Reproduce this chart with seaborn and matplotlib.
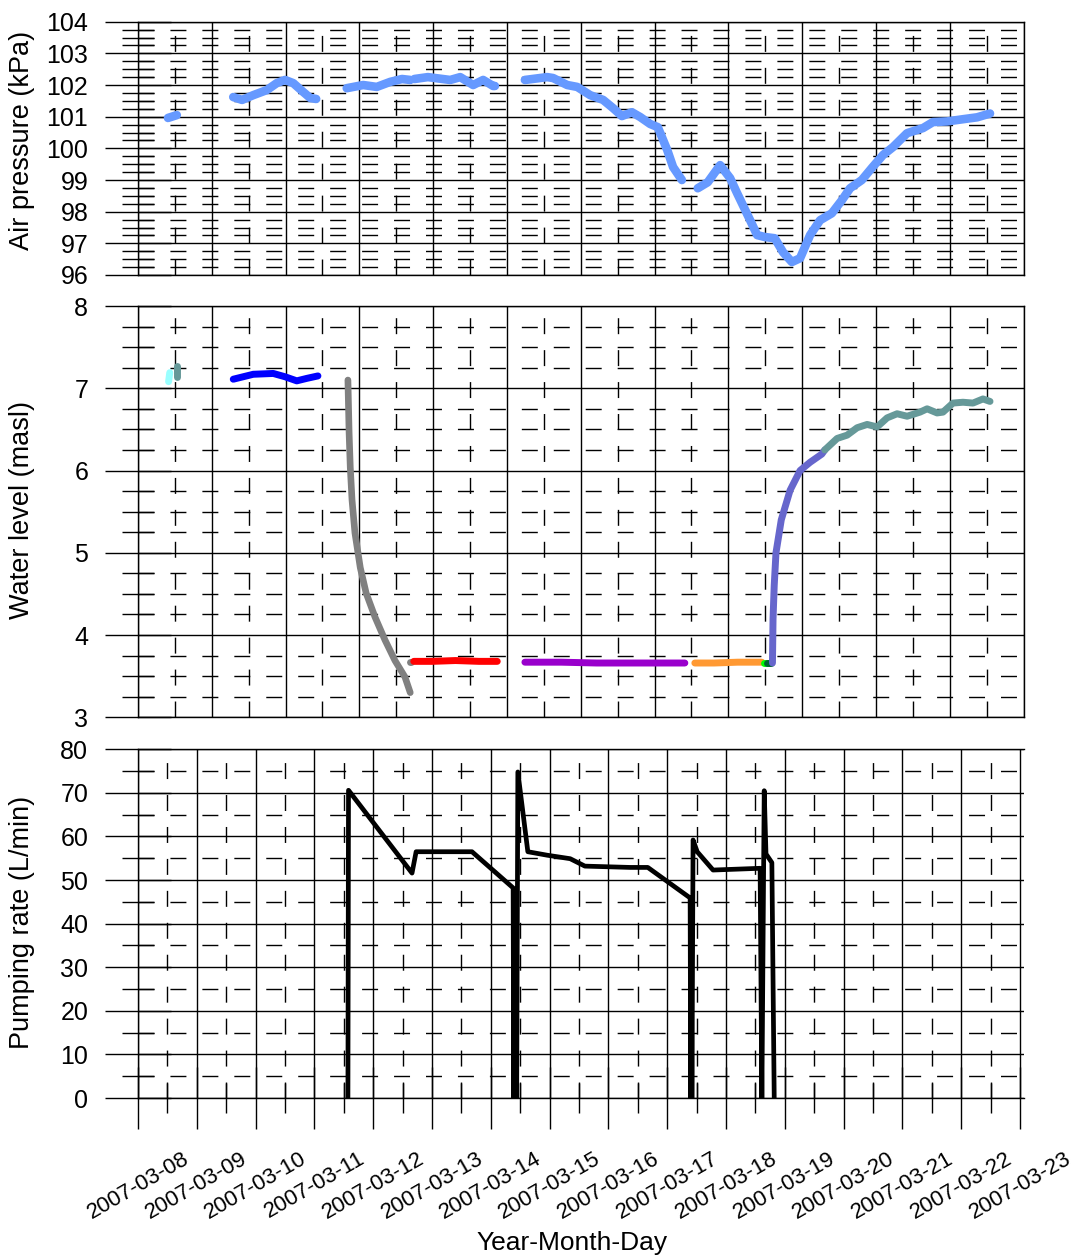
import numpy as np
import pandas as pd
import matplotlib
matplotlib.use("Agg")
import matplotlib.pyplot as plt
import matplotlib.dates as mdates
from matplotlib.ticker import FixedLocator, MultipleLocator
import seaborn as sns

# time axis: days since 2007-03-08 00:00
START = pd.Timestamp("2007-03-08")
n_days = 15

# air pressure (kPa), one list pair per logger segment
ap_days_1 = [0.51, 0.66]
ap_kpa_1 = [100.96, 101.05]
ap_days_2 = [1.62, 1.77, 1.96, 2.19, 2.36, 2.50, 2.64, 2.81, 2.93, 3.03]
ap_kpa_2 = [101.62, 101.53, 101.68, 101.84, 102.06, 102.16, 102.06, 101.78, 101.59, 101.56]
ap_days_3 = [3.55, 3.83, 4.06, 4.29, 4.49, 4.63]
ap_kpa_3 = [101.90, 102.00, 101.94, 102.10, 102.19, 102.16]
ap_days_4 = [4.70, 4.93, 5.31, 5.48, 5.70, 5.87, 6.04, 6.07]
ap_kpa_4 = [102.19, 102.25, 102.16, 102.25, 102.00, 102.16, 101.97, 101.97]
ap_days_5 = [6.58, 6.96, 7.06, 7.30, 7.47, 7.69, 7.91, 8.08, 8.23, 8.40, 8.54,
             8.71, 8.84, 9.00, 9.10, 9.25]
ap_kpa_5 = [102.16, 102.25, 102.22, 102.00, 101.94, 101.68, 101.53, 101.27, 101.02,
            101.14, 100.99, 100.77, 100.67, 99.95, 99.41, 99.00]
ap_days_6 = [9.52, 9.69, 9.90, 10.07, 10.19, 10.41, 10.53, 10.66, 10.83, 10.97,
             11.12, 11.26, 11.43, 11.60, 11.80, 11.97, 12.11, 12.31, 12.48, 12.67,
             12.84, 13.08, 13.35, 13.52, 13.76, 14.03, 14.27, 14.49]
ap_kpa_6 = [98.74, 98.93, 99.47, 99.06, 98.58, 97.73, 97.26, 97.20, 97.16, 96.72,
            96.41, 96.53, 97.26, 97.73, 97.95, 98.36, 98.74, 99.00, 99.38, 99.79,
            100.04, 100.48, 100.64, 100.83, 100.85, 100.92, 100.98, 101.10]

# water level (masl), one segment per colour
wl_cyan_days = [0.52, 0.54]
wl_cyan = [7.08, 7.19]
wl_teal1_days = [0.66, 0.66]
wl_teal1 = [7.14, 7.27]
wl_blue_days = [1.62, 1.96, 2.30, 2.50, 2.70, 2.87, 3.06]
wl_blue = [7.11, 7.17, 7.18, 7.14, 7.09, 7.12, 7.15]
wl_gray_days = [3.57, 3.59, 3.61, 3.64, 3.69, 3.78, 3.88, 4.03, 4.20, 4.37, 4.54, 4.63]
wl_gray = [7.10, 6.46, 6.04, 5.64, 5.24, 4.82, 4.51, 4.22, 3.94, 3.69, 3.49, 3.30]
wl_graydot_days = [4.62, 4.64]
wl_graydot = [3.67, 3.67]
wl_red_days = [4.69, 5.00, 5.40, 5.80, 6.11]
wl_red = [3.68, 3.68, 3.69, 3.68, 3.68]
wl_purple_days = [6.58, 7.20, 7.80, 8.40, 9.00, 9.30]
wl_purple = [3.67, 3.67, 3.66, 3.66, 3.66, 3.66]
wl_orange_days = [9.47, 9.80, 10.20, 10.61]
wl_orange = [3.66, 3.66, 3.67, 3.67]
wl_green_days = [10.64, 10.68]
wl_green = [3.66, 3.66]
wl_dkgreen_days = [10.70, 10.77]
wl_dkgreen = [3.66, 3.66]
wl_slate_days = [10.79, 10.80, 10.82, 10.85, 10.94, 11.09, 11.26, 11.43, 11.63, 11.68]
wl_slate = [3.66, 4.20, 4.60, 5.00, 5.40, 5.76, 6.00, 6.10, 6.20, 6.25]
wl_teal2_days = [11.68, 11.89, 12.06, 12.23, 12.40, 12.57, 12.74, 12.91, 13.08, 13.30,
                 13.42, 13.59, 13.69, 13.86, 14.03, 14.20, 14.37, 14.49]
wl_teal2 = [6.25, 6.39, 6.43, 6.52, 6.56, 6.53, 6.64, 6.69, 6.66, 6.71, 6.75, 6.70,
            6.71, 6.82, 6.83, 6.82, 6.87, 6.84]

# pumping rate (L/min)
pr_days = [3.57, 3.58, 4.66, 4.73, 5.68, 6.38, 6.39, 6.40, 6.41, 6.43, 6.44, 6.46,
           6.63, 6.96, 7.35, 7.60, 8.37, 8.67, 9.39, 9.40, 9.41, 9.42, 9.44, 9.51,
           9.78, 10.58, 10.61, 10.65, 10.68, 10.78, 10.82]
pr_rate = [0.0, 70.6, 51.6, 56.5, 56.5, 48.2, 0.0, 47.0, 0.0, 46.0, 0.0, 74.8,
           56.5, 55.7, 54.9, 53.2, 52.9, 52.9, 45.9, 0.0, 45.0, 0.0, 59.2, 56.5,
           52.3, 52.7, 0.0, 70.5, 56.0, 54.0, 0.0]

sns.set_style("white")
plt.rcParams["font.family"] = ["Liberation Sans", "DejaVu Sans"]
plt.rcParams["text.color"] = "black"
plt.rcParams["lines.scale_dashes"] = False

W, H = 1078, 1260
fig = plt.figure(figsize=(W / 100, H / 100), dpi=100)

x_left, x_right = 138, 1023.5
px_day = 58.8
t0 = mdates.date2num(START)
xspan = (x_right - x_left) / px_day


def add_panel(top, bottom):
    return fig.add_axes([x_left / W, 1 - bottom / H, (x_right - x_left) / W, (bottom - top) / H])


ax1 = add_panel(21.7, 275)
ax2 = add_panel(306, 717.3)
ax3 = add_panel(749.3, 1098)

dash = (0, (11.5, 11.5))
for ax in (ax1, ax2, ax3):
    ax.set_xlim(t0, t0 + xspan)
    ax.set_axisbelow(True)
    ax.grid(which="major", color="black", lw=1, linestyle="-")
    ax.grid(which="minor", color="black", lw=1, linestyle=dash)
    for s in ax.spines.values():
        s.set_color("black")
        s.set_linewidth(1)
        s.set_visible(True)
    ax.tick_params(axis="y", which="major", direction="inout", length=47.5, width=1,
                   pad=12, labelsize=18, color="black", labelcolor="black", left=True)
    ax.tick_params(axis="y", which="minor", direction="inout", length=23, width=1,
                   color="black", left=True)

# top two panels: vertical grid every 1/12 of the span, no x labels
top_major = t0 + np.arange(13) * xspan / 12
top_minor = t0 + (np.arange(12) + 0.5) * xspan / 12
for ax in (ax1, ax2):
    ax.xaxis.set_major_locator(FixedLocator(top_major))
    ax.xaxis.set_minor_locator(FixedLocator(top_minor))
    ax.tick_params(axis="x", which="both", length=0, labelbottom=False)


def seg(ax, days, vals, color, lw):
    sns.lineplot(x=t0 + np.asarray(days), y=vals, ax=ax, color=color, lw=lw,
                 sort=False, estimator=None, legend=False,
                 solid_capstyle="round", solid_joinstyle="round")


# air pressure
for d, v in [(ap_days_1, ap_kpa_1), (ap_days_2, ap_kpa_2), (ap_days_3, ap_kpa_3),
             (ap_days_4, ap_kpa_4), (ap_days_5, ap_kpa_5), (ap_days_6, ap_kpa_6)]:
    seg(ax1, d, v, "#6699ff", 6.2)
ax1.set_ylim(96, 104)
ax1.yaxis.set_major_locator(MultipleLocator(1))
ax1.yaxis.set_minor_locator(MultipleLocator(0.25))
ax1.set_ylabel("")

# water level
seg(ax2, wl_cyan_days, wl_cyan, "#99ffff", 5)
seg(ax2, wl_teal1_days, wl_teal1, "#669999", 5)
seg(ax2, wl_blue_days, wl_blue, "#0000ff", 5)
seg(ax2, wl_gray_days, wl_gray, "#808080", 4.8)
seg(ax2, wl_graydot_days, wl_graydot, "#808080", 5)
seg(ax2, wl_red_days, wl_red, "#ff0000", 5)
seg(ax2, wl_purple_days, wl_purple, "#9900cc", 5)
seg(ax2, wl_orange_days, wl_orange, "#ff9933", 5)
seg(ax2, wl_green_days, wl_green, "#00ff00", 5)
seg(ax2, wl_dkgreen_days, wl_dkgreen, "#006633", 5)
seg(ax2, wl_slate_days, wl_slate, "#6666cc", 5)
seg(ax2, wl_teal2_days, wl_teal2, "#669999", 5)
ax2.set_ylim(3, 8)
ax2.yaxis.set_major_locator(MultipleLocator(1))
ax2.yaxis.set_minor_locator(MultipleLocator(0.25))
ax2.set_ylabel("")

# pumping rate
seg(ax3, pr_days, pr_rate, "black", 3.4)
ax3.set_ylim(0, 80)
ax3.yaxis.set_major_locator(MultipleLocator(10))
ax3.yaxis.set_minor_locator(MultipleLocator(5))
ax3.spines["right"].set_visible(False)
ax3.set_ylabel("")
ax3.set_xlabel("")
ax3.xaxis.set_major_locator(FixedLocator(t0 + np.arange(n_days + 1)))
ax3.xaxis.set_minor_locator(FixedLocator(t0 + np.arange(n_days) + 0.5))
ax3.xaxis.set_major_formatter(mdates.DateFormatter("%Y-%m-%d"))
ax3.tick_params(axis="x", which="major", direction="inout", length=44.6, width=1,
                pad=14, labelsize=16, color="black", labelcolor="black", bottom=True)
ax3.tick_params(axis="x", which="minor", direction="inout", length=21.6, width=1,
                color="black", bottom=True)
for lab in ax3.get_xticklabels():
    lab.set_rotation(30)
    lab.set_ha("center")
    lab.set_va("top")

for ax in (ax1, ax2):
    ax.set_xlabel("")

# axis titles
fig.text(22 / W, 1 - 140 / H, "Air pressure (kPa)", rotation=90, ha="center", va="center", fontsize=19.5)
fig.text(22 / W, 1 - 510 / H, "Water level (masl)", rotation=90, ha="center", va="center", fontsize=19.5)
fig.text(22 / W, 1 - 922 / H, "Pumping rate (L/min)", rotation=90, ha="center", va="center", fontsize=19.5)
fig.text(572 / W, 1 - 1243 / H, "Year-Month-Day", ha="center", va="center", fontsize=19)

fig.savefig("out.png", dpi=100, facecolor="white")
